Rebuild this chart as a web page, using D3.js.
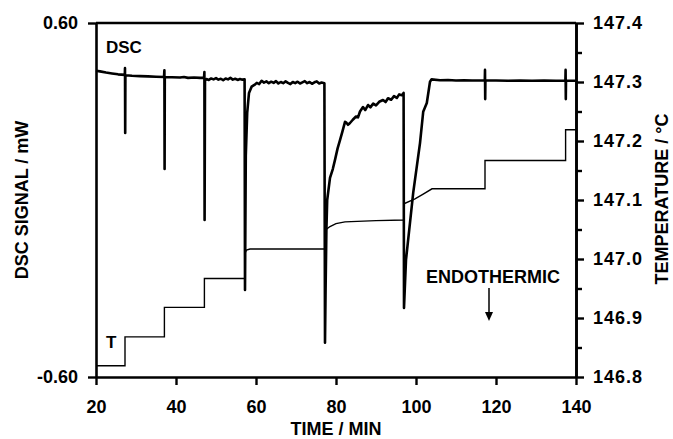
<!DOCTYPE html>
<html>
<head>
<meta charset="utf-8">
<script src="https://cdn.jsdelivr.net/npm/d3@7"></script>
<style>
  body { margin: 0; background: #fff; }
  svg text { font-family: "Liberation Sans", Arial, sans-serif; font-weight: bold; fill: #000; }
</style>
</head>
<body>
<div class="chartWrapper"></div>
<script>
// time / min
var timeTicks = [20, 40, 60, 80, 100, 120, 140];
var dscTicks = [-0.6, 0.6];
var tempTicks = [146.8, 146.9, 147.0, 147.1, 147.2, 147.3, 147.4];
var tempMinorTicks = [146.85, 146.95, 147.05, 147.15, 147.25, 147.35];

// DSC signal [time, mW]
var dscData = [
  [20, 0.438], [21, 0.436], [22.5, 0.432], [24, 0.429], [25.5, 0.426], [27.2, 0.424],
  [27.25, 0.447], [27.3, 0.227], [27.35, 0.423],
  [29, 0.421], [31, 0.420], [33, 0.419], [35, 0.418], [37.0, 0.417],
  [37.1, 0.440], [37.15, 0.105], [37.2, 0.416],
  [39, 0.416], [41, 0.415], [42, 0.417], [43, 0.414], [44.5, 0.415], [46, 0.414], [47.0, 0.414],
  [47.1, 0.434], [47.15, -0.068], [47.25, 0.405],
  [47.6, 0.410], [48.2, 0.407], [48.8, 0.412], [49.4, 0.409], [50, 0.413], [50.6, 0.408], [51.2, 0.411],
  [51.8, 0.406], [52.4, 0.412], [53, 0.409], [53.6, 0.414], [54.2, 0.408], [54.8, 0.411], [55.4, 0.407],
  [56, 0.410], [56.6, 0.408], [57.15, 0.409],
  [57.25, -0.305],
  [57.45, 0.150], [57.8, 0.295], [58.25, 0.363], [58.9, 0.384], [59.6, 0.390], [60.2, 0.397], [60.8, 0.393],
  [61.4, 0.404], [62, 0.398], [62.6, 0.402], [63.2, 0.396], [63.8, 0.401], [64.4, 0.397], [65, 0.403],
  [65.6, 0.395], [66.2, 0.400], [66.8, 0.396], [67.4, 0.402], [68, 0.397], [68.6, 0.393], [69.2, 0.400],
  [69.8, 0.396], [70.4, 0.401], [71, 0.395], [71.6, 0.399], [72.2, 0.403], [72.8, 0.396], [73.4, 0.400],
  [74, 0.394], [74.6, 0.399], [75.2, 0.402], [75.8, 0.395], [76.4, 0.398], [77.1, 0.396],
  [77.25, -0.484],
  [77.4, -0.300], [77.6, -0.100], [77.8, 0.000], [78.5, 0.075], [79.2, 0.105], [79.75, 0.136], [80.4, 0.175],
  [81, 0.203], [81.6, 0.232], [82.25, 0.265], [82.6, 0.262], [83, 0.255], [83.5, 0.261], [84.2, 0.272],
  [85, 0.283], [85.5, 0.280], [86, 0.300], [86.75, 0.315], [87.3, 0.305], [88, 0.322], [88.6, 0.314],
  [89.3, 0.327], [90, 0.321], [90.8, 0.333], [91.75, 0.339], [92.4, 0.332], [93, 0.345], [93.8, 0.340],
  [94.5, 0.352], [95.2, 0.346], [95.8, 0.358], [96.5, 0.355], [96.9, 0.363],
  [97.0, -0.366],
  [97.2, -0.300], [97.5, -0.203], [99.3, 0.024], [101, 0.193], [101.8, 0.299], [102.7, 0.329],
  [103.5, 0.401], [103.9, 0.409],
  [106, 0.406], [108, 0.407], [110, 0.405], [112, 0.406], [114, 0.405], [117.2, 0.405],
  [117.25, 0.441], [117.3, 0.342], [117.35, 0.405],
  [120, 0.405], [123, 0.404], [126, 0.405], [129, 0.404], [132, 0.405], [135, 0.404], [137.35, 0.404],
  [137.4, 0.441], [137.45, 0.342], [137.5, 0.404],
  [140, 0.404]
];

// temperature [time, °C]
var tempData = [
  [20, 146.819], [27.25, 146.819], [27.25, 146.868], [37.1, 146.868], [37.1, 146.918],
  [47.1, 146.918], [47.1, 146.967], [57.25, 146.967], [57.25, 147.010], [57.6, 147.015],
  [58.5, 147.017], [77.25, 147.017], [77.3, 147.049], [78.5, 147.055], [80, 147.060],
  [82.25, 147.063], [90, 147.065], [97.0, 147.066], [97.1, 147.094], [99.75, 147.102],
  [101.8, 147.110], [104, 147.119], [117.25, 147.119], [117.25, 147.167], [137.4, 147.167],
  [137.4, 147.219], [140, 147.219]
];

var chart = {
  width: 673,
  height: 439,
  padding: { top: 23, right: 97, bottom: 62, left: 96 },
  init: function () {
    var p = this.padding;
    this.innerW = this.width - p.left - p.right;
    this.innerH = this.height - p.top - p.bottom;
    this.svg = d3.select(".chartWrapper").append("svg")
      .attr("width", this.width)
      .attr("height", this.height);
    this.g = this.svg.append("g")
      .attr("transform", "translate(" + p.left + "," + p.top + ")");
    this.xScale = d3.scaleLinear().domain([20, 140]).range([0, this.innerW]);
    this.yScale = d3.scaleLinear().domain([-0.6, 0.6]).range([this.innerH, 0]);
    this.tScale = d3.scaleLinear().domain([146.8, 147.4]).range([this.innerH, 0]);
  },
  render: function () {
    this.init();
    this.drawLines();
    this.drawAxis();
    this.drawLabels();
  },
  drawLines: function () {
    var x = this.xScale, y = this.yScale, t = this.tScale;
    var dscLine = d3.line().x(function (d) { return x(d[0]); }).y(function (d) { return y(d[1]); });
    var tempLine = d3.line().x(function (d) { return x(d[0]); }).y(function (d) { return t(d[1]); });

    this.g.append("path")
      .attr("d", tempLine(tempData))
      .attr("fill", "none")
      .attr("stroke", "#000")
      .attr("stroke-width", 1.4);

    this.g.append("path")
      .attr("d", dscLine(dscData))
      .attr("fill", "none")
      .attr("stroke", "#000")
      .attr("stroke-width", 2.6)
      .attr("stroke-linejoin", "round");
  },
  drawAxis: function () {
    var g = this.g, w = this.innerW, h = this.innerH;

    var xAxis = d3.axisBottom(this.xScale).tickValues(timeTicks)
      .tickSize(8).tickSizeOuter(0).tickPadding(15).tickFormat(d3.format("d"));
    // plain hyphen, like the original
    var yAxis = d3.axisLeft(this.yScale).tickValues(dscTicks)
      .tickSize(8).tickSizeOuter(0).tickPadding(10)
      .tickFormat(function (d) { return d.toFixed(2); });
    var tAxis = d3.axisRight(this.tScale).tickValues(tempTicks)
      .tickSize(8).tickSizeOuter(0).tickPadding(9).tickFormat(d3.format(".1f"));
    var tMinor = d3.axisRight(this.tScale).tickValues(tempMinorTicks)
      .tickSize(6).tickSizeOuter(0).tickFormat("");

    var ax = [
      g.append("g").attr("transform", "translate(0," + h + ")").call(xAxis),
      g.append("g").call(yAxis),
      g.append("g").attr("transform", "translate(" + w + ",0)").call(tAxis),
      g.append("g").attr("transform", "translate(" + w + ",0)").call(tMinor)
    ];
    ax.forEach(function (a) {
      a.select(".domain").attr("stroke-width", 2.6);
      a.selectAll(".tick line").attr("stroke-width", 2.4);
      a.selectAll("text").style("font-size", "18px").attr("font-family", null);
    });
    ax[2].selectAll("text").style("letter-spacing", "1px");

    // top frame line
    g.append("line")
      .attr("x1", 0).attr("x2", w).attr("y1", 0).attr("y2", 0)
      .attr("stroke", "#000").attr("stroke-width", 2.6);
  },
  drawLabels: function () {
    var svg = this.svg, p = this.padding;
    svg.append("text")
      .attr("x", p.left + this.innerW / 2).attr("y", 435)
      .attr("text-anchor", "middle").style("font-size", "18px")
      .text("TIME / MIN");
    svg.append("text")
      .attr("transform", "translate(28,200) rotate(-90)")
      .attr("text-anchor", "middle").style("font-size", "18px")
      .text("DSC SIGNAL / mW");
    svg.append("text")
      .attr("transform", "translate(668,199) rotate(-90)")
      .attr("text-anchor", "middle").style("font-size", "18px")
      .text("TEMPERATURE / °C");
    svg.append("text")
      .attr("x", 106).attr("y", 53).style("font-size", "17px")
      .text("DSC");
    svg.append("text")
      .attr("x", 106).attr("y", 348).style("font-size", "17px")
      .text("T");
    svg.append("text")
      .attr("x", 493).attr("y", 283).attr("text-anchor", "middle").style("font-size", "18px")
      .text("ENDOTHERMIC");

    // arrow
    svg.append("line")
      .attr("x1", 489).attr("x2", 489).attr("y1", 288).attr("y2", 316)
      .attr("stroke", "#000").attr("stroke-width", 1.5);
    svg.append("path")
      .attr("d", "M485,312 L493,312 L489,321 Z")
      .attr("fill", "#000");
  }
};

chart.render();
</script>
</body>
</html>
